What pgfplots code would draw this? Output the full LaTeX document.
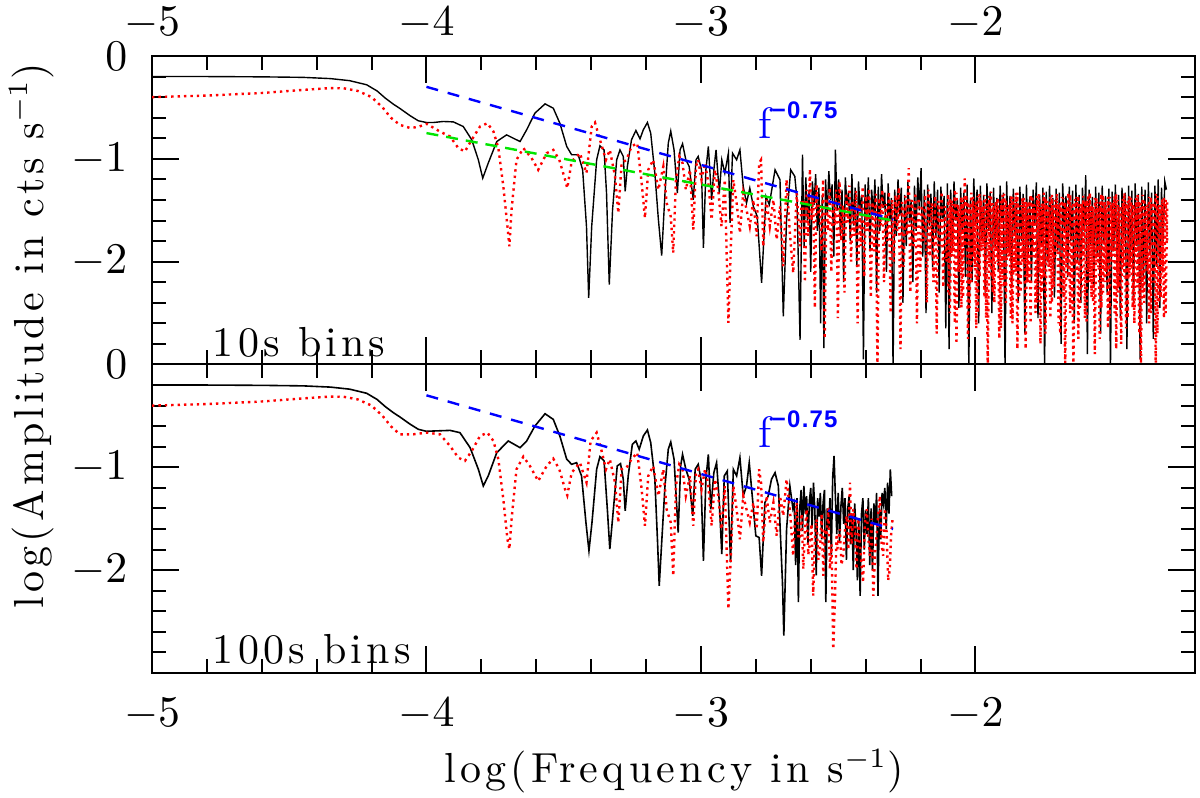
\documentclass[border=0pt]{standalone}
\usepackage{fontspec}
\usepackage{pgfplots}
\pgfplotsset{compat=1.18}
\newfontfamily\supfont{Liberation Sans}[LetterSpace=5]
\newfontfamily\lsp{Latin Modern Roman}[LetterSpace=10]

\pgfplotstableread{
x y
-5.000 -0.200
-4.800 -0.200
-4.600 -0.203
-4.450 -0.208
-4.350 -0.220
-4.280 -0.240
-4.218 -0.280
-4.180 -0.340
-4.150 -0.410
-4.120 -0.470
-4.097 -0.510
-4.060 -0.580
-4.030 -0.630
-4.000 -0.647
-3.975 -0.647
-3.939 -0.637
-3.902 -0.641
-3.866 -0.686
-3.835 -0.815
-3.811 -1.010
-3.795 -1.188
-3.775 -1.042
-3.744 -0.832
-3.708 -0.767
-3.672 -0.815
-3.659 -0.832
-3.635 -0.718
-3.605 -0.556
-3.568 -0.466
-3.538 -0.508
-3.514 -0.654
-3.489 -0.880
-3.471 -0.961
-3.447 -0.961
-3.431 -1.107
-3.417 -1.657
-3.409 -2.353
-3.398 -1.657
-3.380 -1.010
-3.368 -0.874
-3.353 -0.913
-3.344 -1.333
-3.334 -2.223
-3.322 -1.495
-3.307 -1.010
-3.295 -0.913
-3.283 -0.977
-3.276 -1.317
-3.268 -1.074
-3.253 -0.815
-3.237 -0.725
-3.222 -0.806
-3.210 -0.718
-3.195 -0.647
-3.183 -0.751
-3.168 -1.139
-3.155 -1.592
-3.143 -1.942
-3.131 -1.333
-3.119 -0.848
-3.110 -0.731
-3.098 -0.913
-3.086 -1.333
-3.076 -0.913
-3.067 -0.854
-3.055 -1.010
-3.043 -1.074
-3.028 -1.398
-3.018 -1.010
-3.010 -0.977
-2.998 -1.107
-2.991 -1.867
-2.982 -1.107
-2.973 -0.880
-2.961 -1.398
-2.953 -1.107
-2.945 -0.913
-2.933 -1.333
-2.924 -1.010
-2.913 -1.139
-2.900 -0.945
-2.894 -1.624
-2.885 -0.945
-2.870 -1.010
-2.858 -0.913
-2.846 -1.268
-2.834 -1.430
-2.822 -1.285
-2.809 -1.463
-2.795 -1.560
-2.779 -2.207
-2.763 -1.366
-2.751 -1.446
-2.730 -1.107
-2.712 -1.204
-2.700 -2.531
-2.688 -1.592
-2.673 -1.107
-2.658 -1.171
-2.650 -1.400
-2.639 -2.760
-2.630 -0.960
-2.624 -1.85
-2.618 -1.18
-2.612 -1.60
-2.606 -1.30
-2.600 -2.10
-2.594 -1.22
-2.588 -1.45
-2.582 -1.15
-2.576 -1.70
-2.570 -1.28
-2.564 -2.60
-2.558 -1.35
-2.552 -2.84
-2.546 -1.20
-2.540 -1.55
-2.534 -1.12
-2.528 -1.40
-2.522 -1.25
-2.516 -1.95
-2.510 -0.91
-2.504 -1.50
-2.498 -1.20
-2.492 -1.75
-2.486 -1.30
-2.480 -2.20
-2.474 -1.18
-2.468 -1.45
-2.462 -1.32
-2.456 -1.80
-2.450 -1.15
-2.444 -1.65
-2.438 -1.28
-2.432 -2.05
-2.426 -1.22
-2.420 -1.50
-2.414 -1.35
-2.408 -2.95
-2.402 -1.25
-2.396 -1.60
-2.390 -1.18
-2.384 -1.90
-2.378 -1.30
-2.372 -1.55
-2.366 -1.20
-2.360 -2.30
-2.354 -1.27
-2.348 -1.70
-2.342 -1.15
-2.336 -1.48
-2.330 -1.33
-2.324 -2.10
-2.318 -1.24
-2.312 -1.60
-2.306 -1.38
-2.300 -3.05
-2.294 -1.30
-2.288 -1.75
-2.282 -1.20
-2.276 -1.55
-2.270 -1.28
-2.264 -2.40
-2.258 -1.35
-2.252 -1.85
-2.246 -1.22
-2.240 -1.62
-2.234 -1.40
-2.228 -2.20
-2.222 -1.26
-2.216 -1.70
-2.210 -1.18
-2.204 -1.50
-2.198 -1.09
-2.192 -1.95
-2.186 -1.30
-2.180 -2.50
-2.174 -1.25
-2.168 -1.65
-2.162 -1.34
-2.156 -2.05
-2.150 -1.22
-2.144 -1.75
-2.138 -1.30
-2.132 -2.30
-2.126 -1.27
-2.120 -1.58
-2.114 -1.36
-2.108 -2.65
-2.102 -1.24
-2.096 -2.85
-2.090 -1.30
-2.084 -1.90
-2.078 -1.22
-2.072 -1.60
-2.066 -1.40
-2.060 -2.45
-2.054 -1.28
-2.048 -1.72
-2.042 -1.33
-2.036 -2.15
-2.030 -1.25
-2.024 -3.05
-2.018 -1.38
-2.012 -2.20
-2.006 -1.19
-2.000 -1.65
-1.994 -1.30
-1.988 -2.60
-1.982 -1.26
-1.976 -1.80
-1.970 -1.35
-1.964 -2.30
-1.958 -1.24
-1.952 -1.70
-1.946 -1.32
-1.940 -2.50
-1.934 -1.28
-1.928 -1.85
-1.922 -1.38
-1.916 -2.10
-1.910 -1.26
-1.904 -1.60
-1.898 -1.33
-1.892 -3.05
-1.886 -1.22
-1.880 -1.90
-1.874 -1.36
-1.868 -2.25
-1.862 -1.29
-1.856 -1.75
-1.850 -1.40
-1.844 -2.40
-1.838 -1.27
-1.832 -1.80
-1.826 -1.34
-1.820 -2.70
-1.814 -1.25
-1.808 -1.95
-1.802 -1.37
-1.796 -2.20
-1.790 -1.30
-1.784 -1.65
-1.778 -1.23
-1.772 -2.55
-1.766 -1.35
-1.760 -1.85
-1.754 -1.28
-1.748 -3.05
-1.742 -1.32
-1.736 -2.00
-1.730 -1.26
-1.724 -1.75
-1.718 -1.38
-1.712 -2.35
-1.706 -1.29
-1.700 -1.90
-1.694 -1.33
-1.688 -2.80
-1.682 -1.24
-1.676 -1.70
-1.670 -1.36
-1.664 -2.15
-1.658 -1.27
-1.652 -1.80
-1.646 -1.31
-1.640 -2.60
-1.634 -1.25
-1.628 -2.00
-1.622 -1.35
-1.616 -2.40
-1.610 -1.28
-1.604 -1.70
-1.598 -1.16
-1.592 -2.90
-1.586 -1.30
-1.580 -1.85
-1.574 -1.37
-1.568 -2.25
-1.562 -1.27
-1.556 -1.95
-1.550 -1.33
-1.544 -2.70
-1.538 -1.26
-1.532 -1.80
-1.526 -1.36
-1.520 -2.30
-1.514 -1.29
-1.508 -3.05
-1.502 -1.32
-1.496 -1.90
-1.490 -1.25
-1.484 -2.10
-1.478 -1.35
-1.472 -2.55
-1.466 -1.28
-1.460 -1.75
-1.454 -1.33
-1.448 -2.85
-1.442 -1.26
-1.436 -2.00
-1.430 -1.31
-1.424 -2.40
-1.418 -1.24
-1.412 -1.85
-1.406 -1.34
-1.400 -2.95
-1.394 -1.27
-1.388 -2.15
-1.382 -1.30
-1.376 -2.60
-1.370 -1.23
-1.364 -1.90
-1.358 -1.33
-1.352 -2.75
-1.346 -1.26
-1.340 -2.05
-1.334 -1.20
-1.328 -2.45
-1.322 -1.28
-1.316 -1.80
-1.310 -1.22
-1.304 -1.30
}\blacktop

\pgfplotstableread{
x y
-5.000 -0.400
-4.800 -0.385
-4.600 -0.360
-4.450 -0.330
-4.350 -0.312
-4.300 -0.315
-4.250 -0.340
-4.200 -0.400
-4.160 -0.500
-4.130 -0.600
-4.097 -0.670
-4.060 -0.700
-4.030 -0.690
-3.999 -0.660
-3.951 -0.735
-3.914 -0.783
-3.884 -0.896
-3.860 -0.929
-3.835 -0.815
-3.805 -0.686
-3.778 -0.654
-3.756 -0.735
-3.738 -0.896
-3.720 -1.268
-3.705 -1.657
-3.698 -1.851
-3.690 -1.495
-3.672 -1.010
-3.647 -0.896
-3.617 -0.993
-3.593 -1.107
-3.562 -0.945
-3.538 -0.913
-3.516 -1.010
-3.495 -1.204
-3.487 -1.285
-3.471 -1.026
-3.441 -0.945
-3.417 -1.139
-3.398 -0.686
-3.386 -0.647
-3.368 -0.815
-3.346 -1.010
-3.332 -0.913
-3.313 -1.171
-3.301 -1.527
-3.289 -1.042
-3.271 -1.010
-3.253 -0.880
-3.232 -0.848
-3.216 -1.236
-3.204 -1.576
-3.192 -1.107
-3.174 -1.010
-3.155 -1.301
-3.137 -1.074
-3.125 -1.430
-3.110 -1.560
-3.101 -1.916
-3.091 -1.204
-3.079 -0.977
-3.067 -1.042
-3.055 -1.301
-3.040 -1.107
-3.028 -1.689
-3.018 -1.074
-3.010 -1.010
-2.998 -1.204
-2.985 -1.042
-2.973 -1.236
-2.961 -1.592
-2.949 -1.107
-2.937 -1.301
-2.925 -1.657
-2.913 -1.204
-2.900 -2.595
-2.891 -1.851
-2.882 -1.204
-2.870 -1.430
-2.858 -1.721
-2.846 -1.333
-2.834 -1.495
-2.822 -1.657
-2.809 -1.398
-2.797 -1.754
-2.788 -1.042
-2.781 -1.010
-2.773 -1.851
-2.761 -1.398
-2.749 -1.657
-2.736 -1.398
-2.724 -1.786
-2.712 -1.463
-2.700 -2.045
-2.688 -1.204
-2.676 -1.721
-2.664 -2.110
-2.651 -1.333
-2.639 -1.851
-2.633 -1.40
-2.627 -1.40
-2.621 -2.20
-2.615 -1.30
-2.609 -1.75
-2.603 -1.10
-2.597 -1.60
-2.591 -1.35
-2.585 -2.45
-2.579 -1.25
-2.573 -1.55
-2.567 -1.45
-2.561 -1.90
-2.555 -1.20
-2.549 -2.75
-2.543 -1.38
-2.537 -1.70
-2.531 -1.28
-2.525 -2.10
-2.519 -1.42
-2.513 -1.65
-2.507 -1.30
-2.501 -2.55
-2.495 -1.22
-2.489 -1.80
-2.483 -1.45
-2.477 -2.30
-2.471 -1.33
-2.465 -1.62
-2.459 -1.26
-2.453 -2.00
-2.447 -1.40
-2.441 -1.75
-2.435 -1.31
-2.429 -2.60
-2.423 -1.44
-2.417 -1.85
-2.411 -1.27
-2.405 -2.15
-2.399 -1.36
-2.393 -1.70
-2.387 -1.29
-2.381 -2.35
-2.375 -1.42
-2.369 -1.90
-2.363 -1.34
-2.357 -3.05
-2.351 -1.38
-2.345 -1.65
-2.339 -1.30
-2.333 -2.20
-2.327 -1.44
-2.321 -1.80
-2.315 -1.32
-2.309 -2.50
-2.303 -1.40
-2.297 -2.00
-2.291 -1.35
-2.285 -1.70
-2.279 -1.28
-2.273 -2.85
-2.267 -1.42
-2.261 -2.05
-2.255 -1.36
-2.249 -1.75
-2.243 -1.09
-2.237 -2.30
-2.231 -1.40
-2.225 -1.85
-2.219 -1.33
-2.213 -2.60
-2.207 -1.38
-2.201 -2.10
-2.195 -1.45
-2.189 -1.80
-2.183 -1.35
-2.177 -2.40
-2.171 -1.30
-2.165 -1.95
-2.159 -1.43
-2.153 -2.20
-2.147 -1.36
-2.141 -2.70
-2.135 -1.41
-2.129 -1.85
-2.123 -1.32
-2.117 -2.25
-2.111 -1.46
-2.105 -2.00
-2.099 -1.34
-2.093 -2.50
-2.087 -1.40
-2.081 -1.90
-2.075 -1.30
-2.069 -2.80
-2.063 -1.44
-2.057 -2.10
-2.051 -1.37
-2.045 -2.35
-2.039 -1.19
-2.033 -1.75
-2.027 -1.42
-2.021 -2.45
-2.015 -1.33
-2.009 -1.95
-2.003 -1.45
-1.997 -2.65
-1.991 -1.36
-1.985 -2.15
-1.979 -1.40
-1.973 -1.85
-1.967 -1.35
-1.961 -2.55
-1.955 -1.43
-1.949 -2.05
-1.943 -1.32
-1.937 -2.30
-1.931 -1.46
-1.925 -1.90
-1.919 -1.38
-1.913 -2.75
-1.907 -1.41
-1.901 -2.15
-1.895 -1.34
-1.889 -2.40
-1.883 -1.47
-1.877 -1.95
-1.871 -1.36
-1.865 -2.60
-1.859 -1.43
-1.853 -2.10
-1.847 -1.33
-1.841 -2.35
-1.835 -1.45
-1.829 -2.00
-1.823 -1.38
-1.817 -2.85
-1.811 -1.42
-1.805 -2.20
-1.799 -1.35
-1.793 -1.90
-1.787 -1.44
-1.781 -2.50
-1.775 -1.36
-1.769 -2.10
-1.763 -1.47
-1.757 -2.30
-1.751 -1.33
-1.745 -2.70
-1.739 -1.41
-1.733 -2.05
-1.727 -1.37
-1.721 -2.40
-1.715 -1.45
-1.709 -1.95
-1.703 -1.34
-1.697 -2.60
-1.691 -1.43
-1.685 -2.25
-1.679 -1.38
-1.673 -3.05
-1.667 -1.46
-1.661 -2.15
-1.655 -1.35
-1.649 -2.45
-1.643 -1.42
-1.637 -2.00
-1.631 -1.37
-1.625 -2.75
-1.619 -1.44
-1.613 -2.30
-1.607 -1.36
-1.601 -2.55
-1.595 -1.40
-1.589 -2.10
-1.583 -1.33
-1.577 -2.35
-1.571 -1.47
-1.565 -2.90
-1.559 -1.38
-1.553 -2.05
-1.547 -1.42
-1.541 -2.45
-1.535 -1.35
-1.529 -2.20
-1.523 -1.45
-1.517 -2.65
-1.511 -1.37
-1.505 -2.00
-1.499 -1.41
-1.493 -2.50
-1.487 -1.34
-1.481 -2.30
-1.475 -1.46
-1.469 -2.80
-1.463 -1.39
-1.457 -2.15
-1.451 -1.43
-1.445 -2.55
-1.439 -1.36
-1.433 -2.05
-1.427 -1.44
-1.421 -2.60
-1.415 -1.38
-1.409 -2.25
-1.403 -1.41
-1.397 -3.05
-1.391 -1.35
-1.385 -2.40
-1.379 -1.46
-1.373 -2.10
-1.367 -1.37
-1.361 -2.50
-1.355 -1.42
-1.349 -2.20
-1.343 -1.34
-1.337 -2.70
-1.331 -1.45
-1.325 -2.35
-1.319 -1.39
-1.313 -2.55
-1.307 -1.40
-1.301 -1.80
}\redtop

\pgfplotstableread{
x y
-2.099 -2.30
-2.093 -1.38
-2.087 -1.95
-2.081 -1.44
-2.075 -2.60
-2.069 -1.33
-2.063 -2.10
-2.057 -1.47
-2.051 -2.45
-2.045 -1.40
-2.039 -1.85
-2.033 -1.35
-2.027 -2.75
-2.021 -1.45
-2.015 -2.20
-2.009 -1.37
-2.003 -2.05
-1.997 -1.42
-1.991 -2.50
-1.985 -1.34
-1.979 -1.90
-1.973 -1.46
-1.967 -2.35
-1.961 -1.39
-1.955 -3.05
-1.949 -1.36
-1.943 -2.15
-1.937 -1.43
-1.931 -2.40
-1.925 -1.41
-1.919 -2.00
-1.913 -1.48
-1.907 -2.65
-1.901 -1.35
-1.895 -2.25
-1.889 -1.40
-1.883 -1.95
-1.877 -1.44
-1.871 -2.55
-1.865 -1.37
-1.859 -2.10
-1.853 -1.33
-1.847 -2.85
-1.841 -1.46
-1.835 -2.30
-1.829 -1.38
-1.823 -2.05
-1.817 -1.42
-1.811 -2.20
-1.805 -1.41
-1.799 -2.60
-1.793 -1.36
-1.787 -1.95
-1.781 -1.45
-1.775 -2.40
-1.769 -1.34
-1.763 -2.80
-1.757 -1.43
-1.751 -2.15
-1.745 -1.38
-1.739 -2.00
-1.733 -1.47
-1.727 -2.55
-1.721 -1.35
-1.715 -2.25
-1.709 -1.40
-1.703 -1.90
-1.697 -1.44
-1.691 -2.70
-1.685 -1.37
-1.679 -2.35
-1.673 -1.42
-1.667 -2.05
-1.661 -1.33
-1.655 -2.50
-1.649 -1.46
-1.643 -3.05
-1.637 -1.39
-1.631 -2.10
-1.625 -1.36
-1.619 -2.45
-1.613 -1.43
-1.607 -1.95
-1.601 -1.41
-1.595 -2.60
-1.589 -1.35
-1.583 -2.20
-1.577 -1.45
-1.571 -2.40
-1.565 -1.38
-1.559 -2.00
-1.553 -1.47
-1.547 -2.75
-1.541 -1.34
-1.535 -2.30
-1.529 -1.42
-1.523 -2.10
-1.517 -1.37
-1.511 -2.55
-1.505 -1.44
-1.499 -1.90
-1.493 -1.36
-1.487 -2.85
-1.481 -1.40
-1.475 -2.25
-1.469 -1.45
-1.463 -2.05
-1.457 -1.33
-1.451 -2.65
-1.445 -1.41
-1.439 -2.15
-1.433 -1.38
-1.427 -2.45
-1.421 -1.46
-1.415 -1.95
-1.409 -1.35
-1.403 -2.70
-1.397 -1.43
-1.391 -2.30
-1.385 -1.39
-1.379 -2.00
-1.373 -1.44
-1.367 -2.60
-1.361 -1.37
-1.355 -2.20
-1.349 -1.42
-1.343 -3.05
-1.337 -1.36
-1.331 -2.40
-1.325 -1.45
-1.319 -2.10
-1.313 -1.38
-1.307 -2.50
-1.301 -1.41
}\redtopb

\pgfplotstableread{
x y
-5.000 -0.200
-4.800 -0.200
-4.600 -0.203
-4.450 -0.208
-4.350 -0.220
-4.280 -0.240
-4.218 -0.280
-4.180 -0.340
-4.150 -0.410
-4.120 -0.470
-4.097 -0.510
-4.060 -0.580
-4.030 -0.630
-4.000 -0.650
-3.975 -0.647
-3.914 -0.641
-3.878 -0.663
-3.841 -0.809
-3.811 -1.019
-3.793 -1.181
-3.775 -1.084
-3.744 -0.858
-3.702 -0.744
-3.659 -0.809
-3.635 -0.744
-3.605 -0.599
-3.568 -0.479
-3.538 -0.534
-3.514 -0.696
-3.489 -0.922
-3.471 -0.971
-3.453 -0.955
-3.435 -1.084
-3.419 -1.537
-3.408 -1.812
-3.397 -1.537
-3.380 -1.019
-3.368 -0.896
-3.353 -0.938
-3.341 -1.408
-3.332 -1.796
-3.319 -1.408
-3.305 -0.987
-3.293 -0.964
-3.283 -1.116
-3.276 -1.424
-3.265 -1.084
-3.250 -0.777
-3.237 -0.744
-3.225 -0.825
-3.210 -0.696
-3.195 -0.637
-3.183 -0.760
-3.168 -1.116
-3.158 -1.731
-3.152 -2.152
-3.143 -1.731
-3.131 -1.181
-3.119 -0.825
-3.110 -0.754
-3.098 -0.922
-3.089 -1.343
-3.083 -1.634
-3.074 -0.987
-3.067 -0.874
-3.055 -1.019
-3.043 -1.116
-3.030 -1.472
-3.021 -1.019
-3.010 -0.971
-3.000 -1.116
-2.991 -1.909
-2.982 -1.116
-2.973 -0.874
-2.964 -1.408
-2.953 -1.052
-2.943 -0.955
-2.933 -1.343
-2.924 -1.844
-2.915 -1.084
-2.904 -1.036
-2.892 -1.925
-2.882 -1.019
-2.870 -1.084
-2.858 -0.906
-2.846 -1.278
-2.834 -1.181
-2.824 -0.955
-2.812 -1.311
-2.800 -1.667
-2.788 -1.683
-2.779 -2.055
-2.767 -1.343
-2.755 -1.278
-2.743 -1.116
-2.730 -1.052
-2.718 -1.181
-2.703 -2.120
-2.698 -2.637
-2.688 -1.602
-2.676 -1.181
-2.665 -1.40
-2.660 -1.35
-2.655 -1.95
-2.650 -1.30
-2.645 -2.31
-2.640 -1.40
-2.635 -1.22
-2.630 -1.62
-2.625 -1.18
-2.620 -1.45
-2.615 -1.28
-2.610 -1.75
-2.605 -1.33
-2.600 -1.20
-2.595 -1.58
-2.590 -1.15
-2.585 -1.42
-2.580 -2.05
-2.575 -1.30
-2.570 -1.48
-2.565 -1.25
-2.560 -1.70
-2.555 -1.35
-2.550 -1.22
-2.545 -2.31
-2.540 -1.40
-2.535 -1.60
-2.530 -1.30
-2.525 -1.85
-2.520 -1.10
-2.515 -0.89
-2.510 -1.30
-2.505 -1.65
-2.500 -1.25
-2.495 -1.72
-2.490 -1.38
-2.485 -1.20
-2.480 -1.55
-2.475 -1.30
-2.470 -1.90
-2.465 -1.40
-2.460 -1.28
-2.455 -1.75
-2.450 -1.45
-2.445 -2.00
-2.440 -1.35
-2.435 -1.60
-2.430 -2.10
-2.425 -1.50
-2.420 -2.25
-2.415 -1.45
-2.410 -1.30
-2.405 -1.80
-2.400 -1.42
-2.395 -1.65
-2.390 -1.30
-2.385 -1.95
-2.380 -1.40
-2.375 -2.00
-2.370 -1.35
-2.365 -1.55
-2.360 -1.25
-2.355 -2.25
-2.350 -1.40
-2.345 -1.70
-2.340 -1.25
-2.335 -1.35
-2.330 -1.20
-2.325 -1.60
-2.320 -1.15
-2.315 -1.45
-2.310 -1.02
-2.305 -1.28
}\blackbot

\pgfplotstableread{
x y
-5.000 -0.400
-4.800 -0.385
-4.600 -0.360
-4.450 -0.330
-4.350 -0.312
-4.300 -0.315
-4.250 -0.340
-4.200 -0.400
-4.160 -0.500
-4.130 -0.600
-4.097 -0.680
-4.048 -0.679
-3.999 -0.663
-3.951 -0.679
-3.914 -0.793
-3.884 -0.906
-3.860 -0.938
-3.835 -0.841
-3.805 -0.696
-3.778 -0.663
-3.756 -0.744
-3.738 -0.922
-3.720 -1.311
-3.705 -1.699
-3.698 -1.796
-3.690 -1.505
-3.672 -1.019
-3.647 -0.896
-3.623 -0.987
-3.593 -1.133
-3.562 -0.987
-3.538 -0.916
-3.516 -1.019
-3.495 -1.214
-3.487 -1.272
-3.471 -1.052
-3.441 -0.955
-3.417 -1.149
-3.402 -0.744
-3.380 -0.663
-3.362 -0.841
-3.346 -1.019
-3.332 -0.922
-3.313 -1.149
-3.301 -1.537
-3.289 -1.019
-3.271 -1.003
-3.253 -0.922
-3.232 -0.858
-3.216 -1.214
-3.204 -1.569
-3.192 -1.084
-3.174 -0.987
-3.155 -1.278
-3.137 -1.019
-3.125 -1.408
-3.110 -1.537
-3.101 -2.055
-3.091 -1.181
-3.079 -0.971
-3.067 -1.019
-3.055 -1.278
-3.040 -1.084
-3.028 -1.569
-3.018 -1.052
-3.010 -1.019
-2.998 -1.214
-2.985 -1.019
-2.973 -1.181
-2.961 -1.569
-2.949 -1.116
-2.937 -1.278
-2.925 -1.602
-2.913 -1.181
-2.900 -2.378
-2.891 -1.861
-2.882 -1.181
-2.870 -1.408
-2.858 -1.699
-2.846 -1.278
-2.834 -1.408
-2.822 -1.537
-2.809 -1.343
-2.797 -1.602
-2.788 -1.019
-2.781 -1.149
-2.773 -1.730
-2.761 -1.278
-2.749 -1.537
-2.736 -1.343
-2.724 -1.667
-2.712 -1.278
-2.700 -1.472
-2.688 -1.116
-2.676 -1.408
-2.664 -1.861
-2.657 -1.50
-2.651 -1.343
-2.645 -1.70
-2.639 -1.667
-2.633 -1.45
-2.627 -1.990
-2.621 -1.60
-2.615 -1.408
-2.609 -1.85
-2.603 -1.730
-2.597 -1.55
-2.591 -2.249
-2.585 -1.70
-2.579 -1.505
-2.572 -1.90
-2.566 -1.764
-2.560 -1.45
-2.554 -2.055
-2.548 -1.60
-2.542 -1.667
-2.536 -1.40
-2.530 -1.990
-2.524 -1.75
-2.518 -2.767
-2.512 -2.314
-2.506 -1.65
-2.503 -1.796
-2.494 -1.602
-2.488 -1.95
-2.482 -1.861
-2.475 -1.60
-2.469 -1.472
-2.463 -1.80
-2.457 -1.149
-2.451 -1.75
-2.445 -1.408
-2.439 -1.62
-2.433 -1.990
-2.427 -1.50
-2.421 -1.730
-2.415 -1.95
-2.409 -2.120
-2.403 -1.55
-2.396 -1.408
-2.390 -1.70
-2.384 -1.861
-2.378 -1.50
-2.372 -2.249
-2.366 -1.85
-2.360 -1.667
-2.354 -1.45
-2.348 -1.278
-2.342 -1.75
-2.336 -1.861
-2.330 -1.40
-2.324 -1.602
-2.318 -2.10
-2.312 -1.990
-2.307 -1.65
-2.302 -1.505
}\redbot

\pgfplotsset{panel/.style={
  scale only axis, width=260.75pt, height=77.125pt,
  anchor=south west,
  xmin=-5, xmax=-1.2, ymin=-3, ymax=0,
  xtick={-5,-4,-3,-2}, ytick={-3,-2,-1,0},
  yticklabels={{},{$-2$},{$-1$},{$0$}},
  minor x tick num=4, minor y tick num=4,
  tick align=inside, major tick length=6.75pt, minor tick length=3.5pt,
  axis line style={line width=0.5pt},
  every tick/.style={black, line width=0.5pt},
  tick label style={font=\fontsize{10.5}{12}\selectfont, inner sep=1pt},
  xticklabel shift=5pt, yticklabel shift=5pt,
  clip=true,
}}

\begin{document}
\fontsize{10.5}{12.6}\selectfont
\begin{tikzpicture}
\path[use as bounding box] (0,0) rectangle (300pt,199.5pt);

% top panel: 10s bins
\begin{axis}[panel, at={(38pt,108.375pt)}, xticklabel pos=upper, xticklabel shift=3pt]
\addplot[black, line width=0.35pt] table[x=x,y=y] {\blacktop};
\addplot[red, line width=0.6pt, dash pattern=on 0.6pt off 1.0pt] table[x=x,y=y] {\redtop};
\addplot[red, line width=0.6pt, dash pattern=on 0.6pt off 1.0pt] table[x=x,y=y] {\redtopb};
\addplot[color={rgb,1:red,0;green,0.9;blue,0}, line width=0.6pt, dash pattern=on 3pt off 2pt] coordinates {(-4.0,-0.75) (-2.30,-1.60)};
\addplot[blue, line width=0.6pt, dash pattern=on 3pt off 2.5pt] coordinates {(-4.0,-0.30) (-2.30,-1.59)};
\node[anchor=base west, inner sep=0pt] at (axis cs:-4.781,-2.92) {\lsp 10s bins};
\node[anchor=base west, inner sep=0pt, text=blue] at (axis cs:-2.792,-0.80)
  {\fontsize{11}{12}\selectfont f\raisebox{5pt}{\supfont\bfseries\fontsize{6}{7}\selectfont −0.75}};
\end{axis}

% bottom panel: 100s bins
\begin{axis}[panel, at={(38pt,31.25pt)}]
\addplot[black, line width=0.4pt] table[x=x,y=y] {\blackbot};
\addplot[red, line width=0.6pt, dash pattern=on 0.6pt off 1.0pt] table[x=x,y=y] {\redbot};
\addplot[blue, line width=0.6pt, dash pattern=on 3pt off 2.5pt] coordinates {(-4.0,-0.30) (-2.30,-1.60)};
\node[anchor=base west, inner sep=0pt] at (axis cs:-4.781,-2.91) {\lsp 100s bins};
\node[anchor=base west, inner sep=0pt, text=blue] at (axis cs:-2.792,-0.81)
  {\fontsize{11}{12}\selectfont f\raisebox{5pt}{\supfont\bfseries\fontsize{6}{7}\selectfont −0.75}};
\end{axis}

\node[anchor=base] at (168.5pt,3.75pt) {\lsp log(Frequency in s$^{-1}$)};
\node[anchor=base, rotate=90] at (10.75pt,115.5pt) {\lsp log(Amplitude in cts s$^{-1}$)};
\end{tikzpicture}
\end{document}
